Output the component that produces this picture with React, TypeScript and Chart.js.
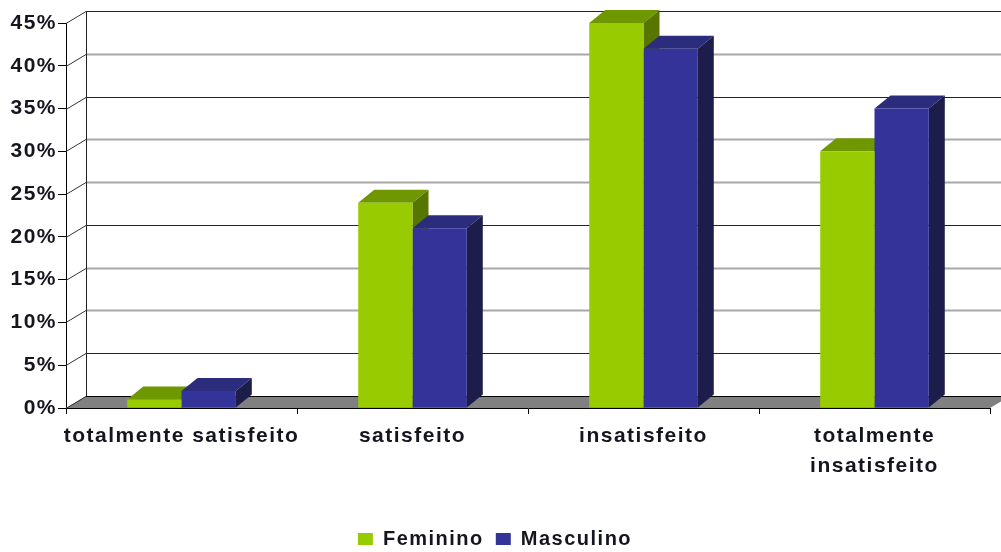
import React, { useEffect, useRef } from 'react';
import { Chart, registerables } from 'chart.js';

Chart.register(...registerables);

// ---- data ----
const categories: (string | string[])[] = [
  'totalmente satisfeito',
  'satisfeito',
  'insatisfeito',
  ['totalmente', 'insatisfeito'],
];
const feminino = [1, 24, 45, 30];
const masculino = [2, 21, 42, 35];
const yMin = 0;
const yMax = 45;
const yStep = 5;

// ---- styles ----
const FRONT_COLORS = ['#99cc00', '#333399'];
const FACE_COLORS = [
  { top: '#6f9800', side: '#577600' },
  { top: '#2c2c7c', side: '#1d1d4c' },
];
const BACK_GRID_COLORS = ['#000', '#222', '#a8a8a8', '#a8a8a8', '#222', '#a8a8a8', '#a8a8a8', '#222', '#a8a8a8', '#222'];
const WALL = { dx: 20, dy: -12 };
const BAR = { dx: 16, dy: -13 };
const TEXT = '#151520';
const PLOT_BOTTOM = 408;
const CANVAS_H = 552;
const PAD_BOTTOM = -7;

const threeD = {
  id: 'threeD',
  beforeLayout(chart: any) {
    chart.ctx.letterSpacing = '1.5px';
  },
  beforeDraw(chart: any) {
    chart.ctx.letterSpacing = '1.5px';
  },
  beforeDatasetsDraw(chart: any) {
    const { ctx, chartArea: a, scales } = chart;
    const ys = scales.y;
    ctx.save();
    ctx.letterSpacing = '0px';
    const L = a.left;
    const R = a.right;
    const B = a.bottom;
    // floor
    ctx.fillStyle = '#808080';
    ctx.beginPath();
    ctx.moveTo(L, B);
    ctx.lineTo(L + WALL.dx, B + WALL.dy);
    ctx.lineTo(R + WALL.dx, B + WALL.dy);
    ctx.lineTo(R, B);
    ctx.closePath();
    ctx.fill();
    // grid lines
    ys.ticks.forEach((t: any, i: number) => {
      const yy = Math.round(ys.getPixelForValue(t.value)) + 0.5;
      ctx.lineWidth = 1;
      ctx.strokeStyle = '#333';
      ctx.beginPath();
      ctx.moveTo(L, yy);
      ctx.lineTo(L + WALL.dx, yy + WALL.dy);
      ctx.stroke();
      const c = BACK_GRID_COLORS[i] || '#222';
      ctx.strokeStyle = c;
      ctx.lineWidth = c === '#a8a8a8' ? 2 : 1;
      ctx.beginPath();
      ctx.moveTo(L + WALL.dx, yy + WALL.dy);
      ctx.lineTo(R + WALL.dx + 20, yy + WALL.dy);
      ctx.stroke();
    });
    // back vertical line
    const topY = Math.round(ys.getPixelForValue(yMax)) + WALL.dy;
    const bx = Math.round(L + WALL.dx) + 0.5;
    ctx.strokeStyle = '#222';
    ctx.lineWidth = 1;
    ctx.beginPath();
    ctx.moveTo(bx, topY);
    ctx.lineTo(bx, B + WALL.dy);
    ctx.stroke();
    // bar tops and sides
    chart.data.datasets.forEach((_ds: any, di: number) => {
      const meta = chart.getDatasetMeta(di);
      const fc = FACE_COLORS[di];
      meta.data.forEach((bar: any) => {
        const { x, y, base, width } = bar.getProps(['x', 'y', 'base', 'width'], true);
        const l = x - width / 2;
        const r = x + width / 2;
        // top
        ctx.fillStyle = fc.top;
        ctx.beginPath();
        ctx.moveTo(l, y);
        ctx.lineTo(l + BAR.dx, y + BAR.dy);
        ctx.lineTo(r + BAR.dx, y + BAR.dy);
        ctx.lineTo(r, y);
        ctx.closePath();
        ctx.fill();
        // side
        ctx.fillStyle = fc.side;
        ctx.beginPath();
        ctx.moveTo(r, y);
        ctx.lineTo(r + BAR.dx, y + BAR.dy);
        ctx.lineTo(r + BAR.dx, base + BAR.dy);
        ctx.lineTo(r, base);
        ctx.closePath();
        ctx.fill();
      });
    });
    ctx.restore();
  },
};

export default function App() {
  const ref = useRef<HTMLCanvasElement | null>(null);
  useEffect(() => {
    if (!ref.current) return;
    const chart = new Chart(ref.current, {
      type: 'bar',
      data: {
        labels: categories as any,
        datasets: [
          { label: 'Feminino', data: feminino, backgroundColor: FRONT_COLORS[0], borderWidth: 0 },
          { label: 'Masculino', data: masculino, backgroundColor: FRONT_COLORS[1], borderWidth: 0 },
        ],
      },
      options: {
        responsive: false,
        animation: false,
        layout: { padding: { left: 0, top: 23, right: 11, bottom: PAD_BOTTOM } },
        datasets: { bar: { categoryPercentage: 0.47, barPercentage: 1 } },
        plugins: {
          legend: {
            position: 'bottom',
            labels: {
              boxWidth: 15,
              boxHeight: 12,
              padding: 12,
              color: TEXT,
              font: { family: '"Liberation Sans", Arial, sans-serif', size: 20, weight: 'bold' },
            },
          },
          tooltip: { enabled: false },
        },
        scales: {
          x: {
            grid: { drawOnChartArea: false, drawTicks: true, tickLength: 6, color: '#000', offset: true },
            border: { display: true, color: '#000', width: 1 },
            ticks: {
              color: TEXT,
              padding: 7,
              maxRotation: 0,
              autoSkip: false,
              font: { family: '"Liberation Sans", Arial, sans-serif', size: 21, weight: 'bold', lineHeight: 1.43 },
            },
            afterFit: (s: any) => {
              const lh = s.chart.legend ? s.chart.legend.height : 42;
              s.height = CANVAS_H - PAD_BOTTOM - lh - PLOT_BOTTOM;
            },
          },
          y: {
            min: yMin,
            max: yMax,
            grid: { drawOnChartArea: false, drawTicks: true, tickLength: 8, color: '#000' },
            border: { display: true, color: '#000', width: 1 },
            ticks: {
              stepSize: yStep,
              color: TEXT,
              padding: 1,
              font: { family: '"Liberation Sans", Arial, sans-serif', size: 21, weight: 'bold' },
              callback: (v: any) => `${v}%`,
            },
            afterFit: (s: any) => {
              s.width = 66;
            },
          },
        },
      },
      plugins: [threeD],
    } as any);
    return () => chart.destroy();
  }, []);
  return (
    <div style={{ position: 'absolute', left: 0, top: 0, width: 1001, height: 552, background: '#fff' }}>
      <canvas ref={ref} width={1001} height={552} style={{ width: 1001, height: 552 }} />
    </div>
  );
}
